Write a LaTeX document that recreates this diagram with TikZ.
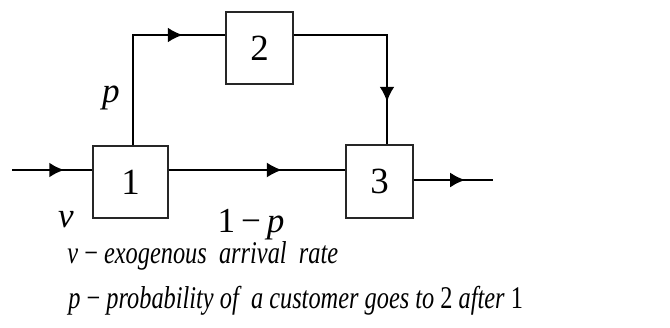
\documentclass[tikz,border=0pt]{standalone}
\usepackage{fontspec}
\setmainfont{Liberation Serif}
\newfontfamily\narrowserif[FakeStretch=0.77]{Liberation Serif}
\usepackage{tikz}
\usetikzlibrary{arrows.meta, decorations.markings, positioning, calc}

\begin{document}
\begin{tikzpicture}[
  station/.style={rectangle, draw=black!85, line width=0.7pt, minimum width=1.34cm, minimum height=1.44cm, inner sep=0pt, font=\fontsize{21}{23}\selectfont},
  line/.style={draw, line width=1.4pt, line join=miter},
  flow/.style={line, postaction={decorate}, decoration={markings, mark=at position #1 with {\arrow{Latex[length=0.3cm,width=0.3cm]}}}},
  flow/.default=0.6,
  tag/.style={font=\fontsize{20}{22}\selectfont\itshape},
  legend/.style={anchor=base west, inner sep=0pt, font=\fontsize{18}{20}\selectfont\narrowserif}
]
  \useasboundingbox (0,0) rectangle (13.4,6.54);

  \node[station, minimum width=1.5cm] (q1) at (2.61,2.90) {1};
  \node[station] (q2) at (5.19,5.58) {2};
  \node[station, minimum height=1.46cm] (q3) at (7.59,2.91) {3};

  \coordinate (src)  at (0.24,3.14);
  \coordinate (sink) at (9.86,2.94);
  \coordinate (up)   at (2.66,5.84);
  \coordinate (down) at (7.74,5.84);

  \path[flow=0.65] (src) -- (src -| q1.west);
  \path[flow=0.79] (q1.north -| up) -- (up) -- (up -| q2.west);
  \path[flow=0.79] (up -| q2.east) -- (down) -- (down |- q3.north);
  \path[flow=0.64, line width=0.8pt] (src -| q1.east) -- (src -| q3.west);
  \path[flow=0.65] (sink -| q3.east) -- (sink);

  \node[tag] (lp)  at (2.22,4.58) {p};
  \node[tag] (lnu) at (1.32,2.14) {ν};
  \node[tag] (lq)  at (5.02,2.04) {{\upshape 1\,−}\,p};

  \node[legend] (def1) at (1.34,1.28) {\textit{ν} − \textit{exogenous\ \ arrival\ \ rate}};
  \node[legend] (def2) at (1.36,0.38) {\textit{p} − \textit{probability of\ \ a customer goes to} 2 \textit{after} 1};
\end{tikzpicture}
\end{document}
